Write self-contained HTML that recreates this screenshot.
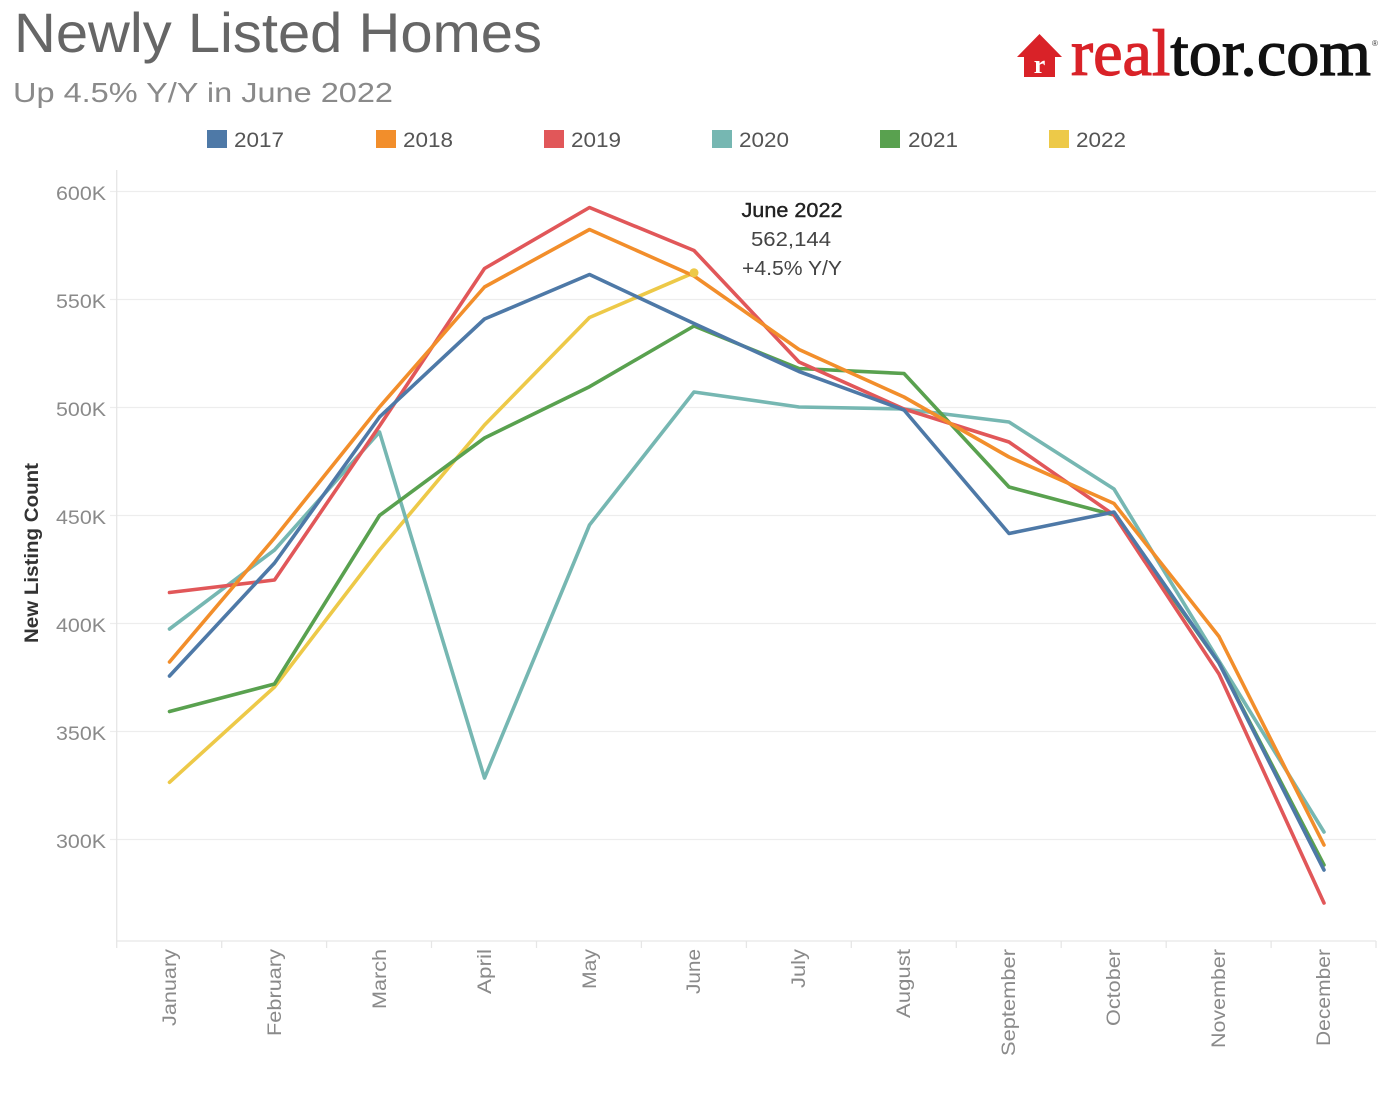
<!DOCTYPE html>
<html>
<head>
<meta charset="utf-8">
<style>
  html, body { margin: 0; padding: 0; background: #ffffff; }
  svg { display: block; }
  text { font-family: "Liberation Sans", "DejaVu Sans", sans-serif; }
</style>
</head>
<body>
<svg width="1382" height="1102" viewBox="0 0 1382 1102" xmlns="http://www.w3.org/2000/svg">
  <rect x="0" y="0" width="1382" height="1102" fill="#ffffff"/>

  <!-- Title -->
  <text x="14" y="52" font-size="56" fill="#666666" textLength="528" lengthAdjust="spacingAndGlyphs">Newly Listed Homes</text>
  <text x="13" y="102" font-size="28" fill="#8a8a8a" textLength="380" lengthAdjust="spacingAndGlyphs">Up 4.5% Y/Y in June 2022</text>

  <!-- realtor.com logo -->
  <path d="M1017,57 L1039.5,34 L1062,57 L1055,57 L1055,77 L1024,77 L1024,57 Z" fill="#d92228"/>
  <text x="1039.5" y="73" font-size="26" font-weight="bold" fill="#ffffff" text-anchor="middle" style="font-family:'Liberation Serif',serif">r</text>
  <text x="1071" y="75" font-size="66" stroke-width="1.2" textLength="300" lengthAdjust="spacingAndGlyphs" style="font-family:'Liberation Serif',serif"><tspan fill="#d92228" stroke="#d92228">real</tspan><tspan fill="#111111" stroke="#111111">tor.com</tspan></text>
  <text x="1372" y="46" font-size="8" fill="#333">®</text>

  <!-- Legend -->
  <g font-size="21" fill="#555555">
    <rect x="207" y="130" width="20" height="18" fill="#4e79a7"/>
    <text x="234" y="147" textLength="50" lengthAdjust="spacingAndGlyphs">2017</text>
    <rect x="376" y="130" width="20" height="18" fill="#f28e2b"/>
    <text x="403" y="147" textLength="50" lengthAdjust="spacingAndGlyphs">2018</text>
    <rect x="544" y="130" width="20" height="18" fill="#e15759"/>
    <text x="571" y="147" textLength="50" lengthAdjust="spacingAndGlyphs">2019</text>
    <rect x="712" y="130" width="20" height="18" fill="#76b7b2"/>
    <text x="739" y="147" textLength="50" lengthAdjust="spacingAndGlyphs">2020</text>
    <rect x="880" y="130" width="20" height="18" fill="#59a14f"/>
    <text x="908" y="147" textLength="50" lengthAdjust="spacingAndGlyphs">2021</text>
    <rect x="1049" y="130" width="20" height="18" fill="#edc948"/>
    <text x="1076" y="147" textLength="50" lengthAdjust="spacingAndGlyphs">2022</text>
  </g>

  <!-- Gridlines -->
  <g stroke="#ededed" stroke-width="1.3">
    <line x1="110" y1="191.5" x2="1376" y2="191.5"/>
    <line x1="110" y1="299.5" x2="1376" y2="299.5"/>
    <line x1="110" y1="407.5" x2="1376" y2="407.5"/>
    <line x1="110" y1="515.5" x2="1376" y2="515.5"/>
    <line x1="110" y1="623.5" x2="1376" y2="623.5"/>
    <line x1="110" y1="731.5" x2="1376" y2="731.5"/>
    <line x1="110" y1="839.5" x2="1376" y2="839.5"/>
  </g>
  <!-- Axes -->
  <g stroke="#e6e6e6" stroke-width="1.3">
    <line x1="116.7" y1="170" x2="116.7" y2="941"/>
    <line x1="116.7" y1="941" x2="1376" y2="941"/>
    <line x1="116.7" y1="941" x2="116.7" y2="948"/>
    <line x1="221.7" y1="941" x2="221.7" y2="948"/>
    <line x1="326.6" y1="941" x2="326.6" y2="948"/>
    <line x1="431.5" y1="941" x2="431.5" y2="948"/>
    <line x1="536.5" y1="941" x2="536.5" y2="948"/>
    <line x1="641.4" y1="941" x2="641.4" y2="948"/>
    <line x1="746.4" y1="941" x2="746.4" y2="948"/>
    <line x1="851.3" y1="941" x2="851.3" y2="948"/>
    <line x1="956.3" y1="941" x2="956.3" y2="948"/>
    <line x1="1061.2" y1="941" x2="1061.2" y2="948"/>
    <line x1="1166.2" y1="941" x2="1166.2" y2="948"/>
    <line x1="1271.1" y1="941" x2="1271.1" y2="948"/>
    <line x1="1376" y1="941" x2="1376" y2="948"/>
  </g>

  <!-- Y tick labels -->
  <g font-size="19" fill="#8a8a8a" text-anchor="end">
    <text x="106" y="200" textLength="50" lengthAdjust="spacingAndGlyphs">600K</text>
    <text x="106" y="308" textLength="50" lengthAdjust="spacingAndGlyphs">550K</text>
    <text x="106" y="416" textLength="50" lengthAdjust="spacingAndGlyphs">500K</text>
    <text x="106" y="524" textLength="50" lengthAdjust="spacingAndGlyphs">450K</text>
    <text x="106" y="632" textLength="50" lengthAdjust="spacingAndGlyphs">400K</text>
    <text x="106" y="740" textLength="50" lengthAdjust="spacingAndGlyphs">350K</text>
    <text x="106" y="848" textLength="50" lengthAdjust="spacingAndGlyphs">300K</text>
  </g>

  <!-- Y axis title -->
  <text transform="translate(38,553) rotate(-90)" font-size="19" font-weight="bold" fill="#333333" text-anchor="middle" textLength="180" lengthAdjust="spacingAndGlyphs">New Listing Count</text>

  <!-- X labels -->
  <g font-size="19" fill="#8a8a8a" text-anchor="end">
    <text transform="translate(176,949) rotate(-90)" textLength="77" lengthAdjust="spacingAndGlyphs">January</text>
    <text transform="translate(281,949) rotate(-90)" textLength="87" lengthAdjust="spacingAndGlyphs">February</text>
    <text transform="translate(386,949) rotate(-90)" textLength="60" lengthAdjust="spacingAndGlyphs">March</text>
    <text transform="translate(491,949) rotate(-90)" textLength="45" lengthAdjust="spacingAndGlyphs">April</text>
    <text transform="translate(596,949) rotate(-90)" textLength="40" lengthAdjust="spacingAndGlyphs">May</text>
    <text transform="translate(700,949) rotate(-90)" textLength="45" lengthAdjust="spacingAndGlyphs">June</text>
    <text transform="translate(805,949) rotate(-90)" textLength="39" lengthAdjust="spacingAndGlyphs">July</text>
    <text transform="translate(910,949) rotate(-90)" textLength="69" lengthAdjust="spacingAndGlyphs">August</text>
    <text transform="translate(1015,949) rotate(-90)" textLength="107" lengthAdjust="spacingAndGlyphs">September</text>
    <text transform="translate(1120,949) rotate(-90)" textLength="77" lengthAdjust="spacingAndGlyphs">October</text>
    <text transform="translate(1225,949) rotate(-90)" textLength="99" lengthAdjust="spacingAndGlyphs">November</text>
    <text transform="translate(1330,949) rotate(-90)" textLength="97" lengthAdjust="spacingAndGlyphs">December</text>
  </g>

  <!-- Series -->
  <g fill="none" stroke-width="3.6" stroke-linejoin="round" stroke-linecap="round">
    <polyline stroke="#edc948" points="169.5,782.3 274.5,687 379.5,550 484.5,425 589.5,317.5 694,272.7"/>
    <polyline stroke="#76b7b2" points="169.5,629 274.5,550 379.5,432 484.5,778 589.5,525 694,392 799,407 904,409 1009,422 1114,489 1219,661 1324,832"/>
    <polyline stroke="#59a14f" points="169.5,711.5 274.5,684 379.5,515.5 484.5,438 589.5,386.7 694,326 799,368.5 904,373.5 1009,487 1114,515 1219,663 1324,865"/>
    <polyline stroke="#e15759" points="169.5,592.5 274.5,580 379.5,426 484.5,268.5 589.5,207.5 694,250.5 799,362 904,409 1009,442 1114,515 1219,674 1324,903"/>
    <polyline stroke="#f28e2b" points="169.5,662 274.5,538 379.5,407 484.5,287 589.5,229.5 694,276 799,349.5 904,397 1009,457 1114,503.5 1219,636.5 1324,845"/>
    <polyline stroke="#4e79a7" points="169.5,676 274.5,563 379.5,417 484.5,319 589.5,274.5 694,323.5 799,371.5 904,410 1009,533.5 1114,512 1219,663 1324,870"/>
  </g>
  <circle cx="694" cy="272.7" r="4.5" fill="#edc948"/>

  <!-- Annotation -->
  <text x="792" y="217" font-size="20" fill="#222222" stroke="#222222" stroke-width="0.4" text-anchor="middle" textLength="101" lengthAdjust="spacingAndGlyphs">June 2022</text>
  <text x="791" y="246" font-size="20" fill="#444444" text-anchor="middle" textLength="80" lengthAdjust="spacingAndGlyphs">562,144</text>
  <text x="792" y="275" font-size="20" fill="#444444" text-anchor="middle" textLength="100" lengthAdjust="spacingAndGlyphs">+4.5% Y/Y</text>
</svg>
</body>
</html>
